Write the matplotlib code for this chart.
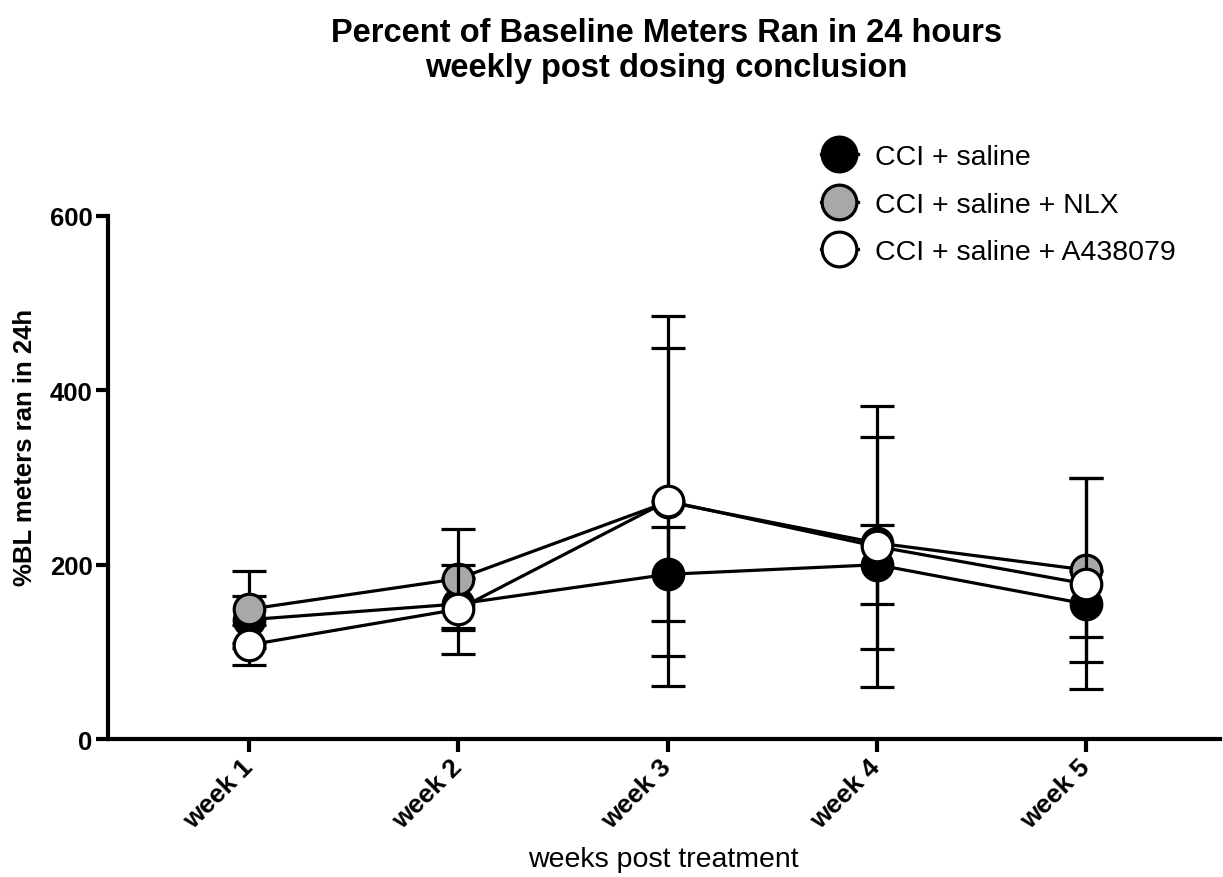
import matplotlib.pyplot as plt
from matplotlib.lines import Line2D

plt.rcParams['font.family'] = ['Liberation Sans', 'DejaVu Sans']

weeks = ["week 1", "week 2", "week 3", "week 4", "week 5"]
x = [1, 2, 3, 4, 5]

saline = [137, 155, 189, 200, 155]
saline_err = [27, 30, 54, 45, 38]

nlx = [149, 184, 272, 225, 194]
nlx_err = [44, 57, 177, 122, 106]

a438 = [108, 149, 273, 221, 178]
a438_err = [23, 51, 212, 161, 121]

labels = ["CCI + saline", "CCI + saline + NLX", "CCI + saline + A438079"]
colors = ["black", "#a8a8a8", "white"]

fig = plt.figure(figsize=(12.23, 8.78), dpi=100)
ax = fig.add_axes([0.0883, 0.157, 0.909, 0.596])

series = [(saline, saline_err), (nlx, nlx_err), (a438, a438_err)]
for i, (vals, errs) in enumerate(series):
    ax.errorbar(x, vals, yerr=errs, fmt="none", ecolor="black",
                elinewidth=2.3, capsize=12, capthick=2.3, zorder=2 + 2 * i,
                clip_on=False)
    ax.plot(x, vals, color="black", lw=2.3, marker="o", ms=22,
            mfc=colors[i], mec="black", mew=2.3, zorder=3 + 2 * i,
            clip_on=False)

ax.set_xlim(0.325, 5.64)
ax.set_ylim(0, 600)
ax.set_yticks([0, 200, 400, 600])
ax.set_xticks(x)
ax.set_xticklabels(weeks, rotation=45, ha="right", va="center",
                   rotation_mode="anchor", fontsize=19, fontweight="bold")
for t in ax.get_yticklabels():
    t.set_fontsize(18.5)
    t.set_fontweight("bold")

for s in ["top", "right"]:
    ax.spines[s].set_visible(False)
for s in ["left", "bottom"]:
    ax.spines[s].set_linewidth(3)
ax.tick_params(width=3, length=9, pad=2)
ax.tick_params(axis="x", pad=8)

ax.set_ylabel("%BL meters ran in 24h", fontsize=18.5, fontweight="bold")
ax.yaxis.set_label_coords(-0.064, 0.56)
ax.set_xlabel("weeks post treatment", fontsize=20.5, labelpad=10)

fig.suptitle("Percent of Baseline Meters Ran in 24 hours\nweekly post dosing conclusion",
             fontsize=23.5, fontweight="bold", x=0.545, y=0.98)

handles = [Line2D([], [], color="black", lw=2.3, marker="o", ms=25,
                  mfc=c, mec="black", mew=2.3) for c in colors]
leg = ax.legend(handles, labels, loc="upper left", bbox_to_anchor=(0.618, 1.186),
                frameon=False, fontsize=20.5, handlelength=1.3,
                handletextpad=0.6, labelspacing=0.75)

fig.savefig("out.png", dpi=100)
